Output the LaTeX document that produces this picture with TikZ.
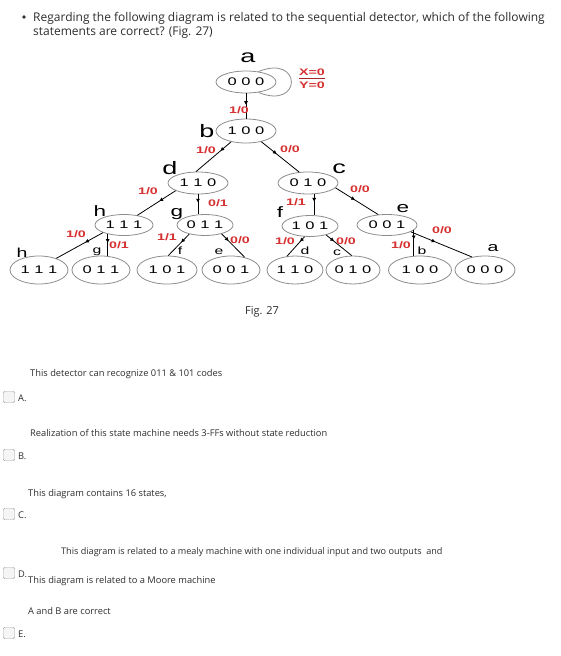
\documentclass[tikz,border=0pt]{standalone}
\usepackage{graphicx}
\usepackage{fontspec}
\setmainfont{Open Sans}
\newfontfamily\arialf{Liberation Sans}
\usetikzlibrary{shapes.geometric,arrows.meta,decorations.markings}
\definecolor{labred}{RGB}{214,48,48}
\definecolor{ringgray}{RGB}{140,140,140}
\definecolor{txtgray}{RGB}{45,45,45}
\newcommand{\wide}[1]{\scalebox{1.5}[1]{#1}}
\begin{document}
\begin{tikzpicture}[x=1pt,y=-1pt,
 st/.style={ellipse, draw=ringgray, line width=0.8pt, inner sep=0pt, minimum width=60pt, minimum height=22pt, font=\arialf\fontsize{11}{12}\selectfont},
 bst/.style={st, minimum height=28pt, minimum width=58pt},
 tr/.style={draw=black, line width=0.8pt, postaction={decorate}, decoration={markings, mark=at position #1 with {\arrow{Triangle[length=3.5pt,width=3.5pt]}}}},
 tr/.default=0.5,
 lab/.style={text=labred, font=\arialf\bfseries\fontsize{9.5}{11}\selectfont, inner sep=0pt},
 lbig/.style={font=\arialf\fontsize{18}{20}\selectfont, inner sep=0pt},
 lmid/.style={font=\arialf\fontsize{15}{17}\selectfont, inner sep=0pt},
 lsmall/.style={font=\arialf\fontsize{13}{15}\selectfont, inner sep=0pt},
 ltiny/.style={font=\arialf\fontsize{10.5}{12}\selectfont, inner sep=0pt},
 qtext/.style={anchor=base west, inner sep=0pt, font=\fontsize{12}{14}\selectfont, text=txtgray},
 otext/.style={anchor=base west, inner sep=0pt, font=\fontsize{9.3}{11}\selectfont, text=txtgray},
 cbox/.style={draw=gray!70, rounded corners=1.5pt, fill=gray!8, minimum size=11.5pt, inner sep=0pt},
]
\useasboundingbox (0,0) rectangle (560,656);

% header
\node[circle, fill=black!80, inner sep=0pt, minimum size=3.6pt] (bul) at (24,17) {};
\node[qtext] (q1) at (33,21) {Regarding the following diagram is related to the sequential detector, which of the following};
\node[qtext] (q2) at (33,35) {statements are correct? (Fig. 27)};

% states
\node[st] (a) at (246,82) {\wide{0 0 0}};
\node[st, minimum height=24pt] (b) at (246,131) {\wide{1 0 0}};
\node[st] (d) at (198,183) {\wide{1 1 0}};
\node[st] (c) at (308,183) {\wide{0 1 0}};
\node[st, minimum height=21pt, minimum width=58pt] (h1) at (124,225) {\wide{1 1 1}};
\node[st, minimum height=21pt, minimum width=56pt] (g1) at (205,225) {\wide{0 1 1}};
\node[st, minimum height=21pt, minimum width=56pt] (f1) at (310,226) {\wide{1 0 1}};
\node[st, minimum height=21pt] (e1) at (387,225) {\wide{0 0 1}};

\node[bst] (b111) at (39,270) {\wide{1 1 1}};
\node[bst] (b011) at (101,270) {\wide{0 1 1}};
\node[bst, minimum width=60pt] (b101) at (167,270) {\wide{1 0 1}};
\node[bst] (b001) at (231,270) {\wide{0 0 1}};
\node[bst, minimum width=56pt] (b110) at (295,270) {\wide{1 1 0}};
\node[bst, minimum width=54pt] (b010) at (353,270) {\wide{0 1 0}};
\node[bst, minimum width=63pt] (b100) at (420,270) {\wide{1 0 0}};
\node[bst, minimum width=60pt] (b000) at (485,270) {\wide{0 0 0}};

% self loop
\draw[draw=ringgray, line width=0.8pt] (a.40) .. controls +(44,-18) and +(44,18) .. (a.-40);
\node[lab] (xe) at (312,72) {\wide{X=0}};
\node[lab] (ye) at (312,85) {\wide{Y=0}};
\draw[labred!80!black, line width=0.6pt] ([yshift=-2.5pt]xe.south west) -- ([yshift=-2.5pt]xe.south east);

% transitions
\draw[tr=0.45] (a.south) -- (b.north);
\draw[tr=0.3] (b.216) -- (d.100);
\draw[tr=0.4] (b.-35) -- (c.129);
\draw[tr=0.42] (d.199) -- (h1.36);
\draw[tr=0.4] (d.south) -- (d.south |- g1.north);
\draw[tr=0.35] (c.-61) -- (c.-61 |- f1.north);
\draw[tr=0.45] (c.-10) -- (e1.130);
\draw[tr=0.38] (h1.200) -- (b111.34);
\draw[tr=0.4] (h1.209) -- (h1.209 |- b011.north);
\draw[tr=0.38] (g1.210) -- (b101.85);
\draw[tr=0.3] (g1.-28) -- (b001.43);
\draw[tr=0.25] (f1.243) -- (b110.120);
\draw[tr=0.3] (f1.-29) -- (b010.95);
\draw[tr=0.35] (e1.-11) -- (e1.-11 |- b100.north);
\draw[tr=0.4] (e1.-16) -- (b000.135);

% transition labels
\node[lab] (l1) at (239,110) {\wide{1/0}};
\node[lab] (l2) at (206,150) {\wide{1/0}};
\node[lab] (l3) at (290,149) {\wide{0/0}};
\node[lab] (l4) at (148,191) {\wide{1/0}};
\node[lab] (l5) at (218,203) {\wide{0/1}};
\node[lab] (l6) at (296,202) {\wide{1/1}};
\node[lab] (l7) at (360,189) {\wide{0/0}};
\node[lab] (l8) at (76,234) {\wide{1/0}};
\node[lab] (l9) at (119,245) {\wide{0/1}};
\node[lab] (l10) at (167,237) {\wide{1/1}};
\node[lab] (l11) at (240,240) {\wide{0/0}};
\node[lab] (l12) at (285,241) {\wide{1/0}};
\node[lab] (l13) at (346,241) {\wide{0/0}};
\node[lab] (l14) at (401,245) {\wide{1/0}};
\node[lab] (l15) at (442,230) {\wide{0/0}};

% state letters
\node[lbig] (na) at (248,58) {\wide{a}};
\node[lbig] (nb) at (207,131) {\wide{b}};
\node[lbig] (nd) at (170,168) {\wide{d}};
\node[lbig] (nc) at (339,169) {\wide{c}};
\node[lmid] (nh) at (100,211) {\wide{h}};
\node[lmid] (ng) at (177,214) {\wide{g}};
\node[lmid] (nf) at (280,212) {\wide{f}};
\node[lmid] (ne) at (403,209) {\wide{e}};
\node[lsmall] (nh2) at (22,253) {\wide{h}};
\node[lsmall] (na2) at (493,248) {\wide{a}};
\node[ltiny] (ng2) at (97,252) {\wide{g}};
\node[ltiny] (nf2) at (180,251) {\wide{f}};
\node[ltiny] (ne2) at (219,252) {\wide{e}};
\node[ltiny] (nd2) at (305,251) {\wide{d}};
\node[ltiny] (nc2) at (337,253) {\wide{c}};
\node[ltiny] (nb2) at (422,251) {\wide{b}};

\node[anchor=base west, inner sep=0pt, font=\fontsize{11}{13}\selectfont, text=txtgray] (fig) at (245,314) {Fig. 27};

% options
\node[otext] (ta) at (30,376) {This detector can recognize 011 \& 101 codes};
\node[cbox] (ca) at (9,397) {};
\node[otext] (la) at (18,401) {A.};
\node[otext] (tb) at (30,436) {Realization of this state machine needs 3-FFs without state reduction};
\node[cbox] (cb) at (9,455) {};
\node[otext] (lb) at (18,459) {B.};
\node[otext] (tc) at (28,496) {This diagram contains 16 states,};
\node[cbox] (cc) at (9,514) {};
\node[otext] (lc) at (18,518) {C.};
\node[otext, font=\fontsize{9.1}{11}\selectfont] (td) at (61,554) {This diagram is related to a mealy machine with one individual input and two outputs\ \ and};
\node[cbox] (cd) at (9,573) {};
\node[otext] (ld) at (18,577) {D.};
\node[otext] (td2) at (28,583) {This diagram is related to a Moore machine};
\node[otext] (te) at (28,614) {A and B are correct};
\node[cbox] (ce) at (9,633) {};
\node[otext] (le) at (18,637) {E.};
\end{tikzpicture}
\end{document}
